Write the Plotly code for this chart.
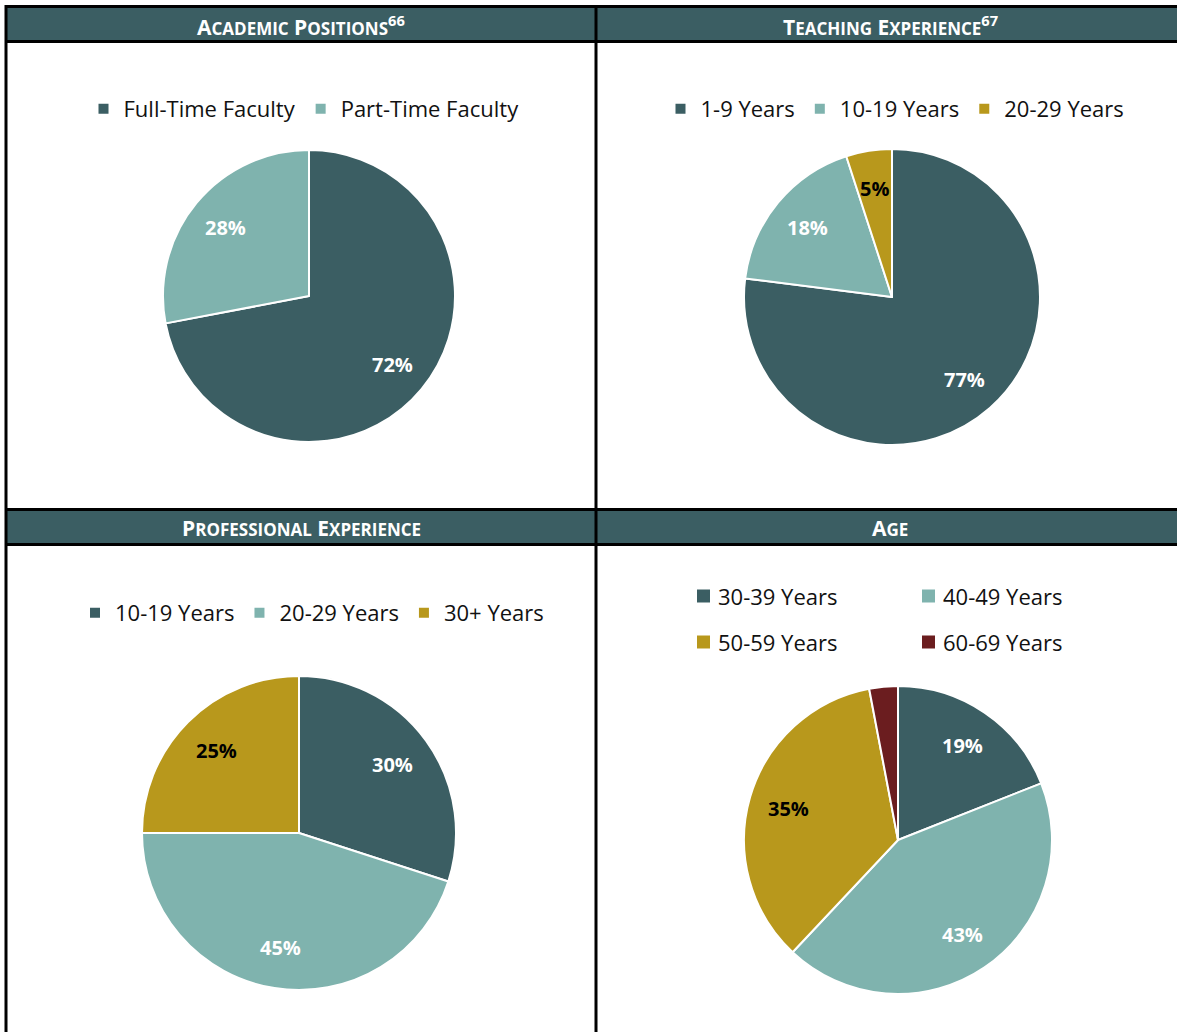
import math
import plotly.graph_objects as go

W, H = 1177, 1032

# ---- data ----
acad_labels = ["Full-Time Faculty", "Part-Time Faculty"]
acad_values = [72, 28]
teach_labels = ["1-9 Years", "10-19 Years", "20-29 Years"]
teach_values = [77, 18, 5]
prof_labels = ["10-19 Years", "20-29 Years", "30+ Years"]
prof_values = [30, 45, 25]
age_labels = ["30-39 Years", "40-49 Years", "50-59 Years", "60-69 Years"]
age_values = [19, 43, 35, 3]
age_shown = [True, True, True, False]

# ---- style ----
DARK = "#3B5E63"
LIGHT = "#7FB3AE"
GOLD = "#B8981C"
MAROON = "#6B1D1F"
FONT = "Open Sans"
LABEL_R = 0.74
LEG_SIZE = 22

def px(x):
    return x / W

def py(y):
    return 1 - y / H

def dom(cx, cy, r):
    return dict(x=[px(cx - r), px(cx + r)], y=[py(cy + r), py(cy - r)])

def label_color(c):
    return "black" if c == GOLD else "white"

fig = go.Figure()
shapes = []
annotations = []

def add_pie(labels, values, colors, geom, legend, group, shown=None):
    cx, cy, r = geom
    if shown is None:
        shown = [True] * len(values)
    fig.add_trace(go.Pie(
        labels=labels, values=values, textinfo="none",
        sort=False, direction="clockwise", rotation=0,
        marker=dict(colors=colors, line=dict(color="white", width=2)),
        domain=dom(cx, cy, r), legend=legend or "legend", legendgroup=group,
        hoverinfo="label+percent",
        showlegend=legend is not None,
    ))
    # percentage labels placed along each slice's bisector
    total = sum(values)
    cum = 0
    for v, c, s in zip(values, colors, shown):
        mid = 2 * math.pi * (cum + v / 2) / total
        cum += v
        if not s:
            continue
        lx = cx + LABEL_R * r * math.sin(mid)
        ly = cy - LABEL_R * r * math.cos(mid)
        annotations.append(dict(text=f"<b>{round(100 * v / total)}%</b>", x=px(lx), y=py(ly),
                                xref="paper", yref="paper", showarrow=False,
                                xanchor="center", yanchor="middle",
                                font=dict(family=FONT, size=20, color=label_color(c))))

add_pie(acad_labels, acad_values, [DARK, LIGHT], (309, 296, 146), "legend", "g1")
add_pie(teach_labels, teach_values, [DARK, LIGHT, GOLD], (892, 297, 148), "legend2", "g2")
add_pie(prof_labels, prof_values, [DARK, LIGHT, GOLD], (299, 833, 157), "legend3", "g3")
add_pie(age_labels, age_values, [DARK, LIGHT, GOLD, MAROON], (898, 840, 154), None, "g4", age_shown)

leg_common = dict(orientation="h", xanchor="center", yanchor="middle", traceorder="normal",
                  bgcolor="rgba(0,0,0,0)", font=dict(family=FONT, size=LEG_SIZE, color="#111111"),
                  itemclick=False, itemdoubleclick=False)

# borders & headers
LINE = dict(color="black", width=3)
for (y0, y1) in [(8, 41), (511, 544)]:
    shapes.append(dict(type="rect", xref="paper", yref="paper", x0=px(6), x1=px(W + 5),
                       y0=py(y1), y1=py(y0), fillcolor=DARK, line=dict(width=0), layer="below"))
for yy in [6.5, 41.5, 509.5, 544.5]:
    shapes.append(dict(type="line", xref="paper", yref="paper", x0=px(5), x1=px(W + 5),
                       y0=py(yy), y1=py(yy), line=LINE))
for xx in [6, 596]:
    shapes.append(dict(type="line", xref="paper", yref="paper", x0=px(xx), x1=px(xx),
                       y0=py(5), y1=py(H + 5), line=LINE))

def smallcaps(words):
    out = []
    for w in words.split(" "):
        out.append(w[0] + f"<span style='font-size:17px'>{w[1:].upper()}</span>")
    return " ".join(out)

titles = [
    (smallcaps("Academic Positions") + "<sup>66</sup>", 301, 25),
    (smallcaps("Teaching Experience") + "<sup>67</sup>", 890, 25),
    (smallcaps("Professional Experience"), 301, 528),
    (smallcaps("Age"), 890, 528),
]
for t, x, y in titles:
    annotations.append(dict(text=f"<b>{t}</b>", x=px(x), y=py(y), xref="paper", yref="paper",
                            showarrow=False, xanchor="center", yanchor="middle",
                            font=dict(family=FONT, size=21, color="white")))

# age legend (2 x 2 grid)
age_colors = [DARK, LIGHT, GOLD, MAROON]
col_x = [697, 922]
row_y = [596, 642]
for i, (lab, c) in enumerate(zip(age_labels, age_colors)):
    cx = col_x[i % 2]
    cy = row_y[i // 2]
    shapes.append(dict(type="rect", xref="paper", yref="paper", x0=px(cx), x1=px(cx + 13),
                       y0=py(cy + 6.5), y1=py(cy - 6.5), fillcolor=c, line=dict(width=0)))
    annotations.append(dict(text=lab, x=px(cx + 19), y=py(cy), xref="paper", yref="paper",
                            showarrow=False, xanchor="left", yanchor="middle",
                            font=dict(family=FONT, size=LEG_SIZE, color="#111111")))

fig.update_layout(
    width=W, height=H, margin=dict(l=0, r=0, t=0, b=0),
    paper_bgcolor="white", plot_bgcolor="white",
    legend=dict(x=px(304), y=py(109), **leg_common),
    legend2=dict(x=px(895), y=py(109), **leg_common),
    legend3=dict(x=px(312), y=py(613), **leg_common),
    shapes=shapes, annotations=annotations,
)

fig.write_html("out.html", config={"displayModeBar": False},
               post_script="document.body.style.margin='0px';")
